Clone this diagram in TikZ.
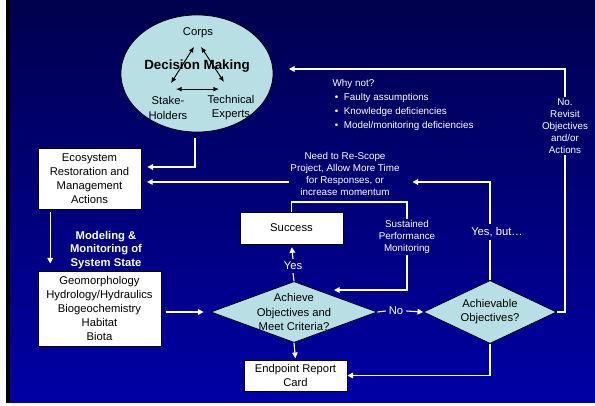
\documentclass[tikz,border=0pt]{standalone}
\usepackage{fontspec}
\setmainfont{Liberation Sans}
\usetikzlibrary{shapes.geometric,arrows.meta}

\definecolor{bgtop}{RGB}{0,0,78}
\definecolor{bgbottom}{RGB}{0,0,165}
\definecolor{paleteal}{RGB}{184,223,227}

\newcommand{\boxsz}{\fontsize{8}{10}\selectfont}
\newcommand{\notesz}{\fontsize{7}{8.5}\selectfont}

\tikzset{
  flow/.style={draw=white,line width=0.8pt},
  flowarrow/.style={flow,-{Triangle[length=4pt,width=4pt]}},
  party arrow/.style={draw=black,line width=0.7pt,{Latex[length=4pt,width=3.5pt]}-{Latex[length=4pt,width=3.5pt]}}
}

\begin{document}
\begin{tikzpicture}[x=0.025cm, y=-0.025cm]
        \tikzstyle{box}=[draw=black,fill=white,line width=0.6pt,align=center,inner sep=1pt,font=\boxsz]
        \tikzstyle{decision}=[shape=diamond,draw=black,fill=paleteal,line width=0.5pt,inner sep=0pt]
        \tikzstyle{diatext}=[align=center,inner sep=0pt,font=\boxsz]
        \tikzstyle{party}=[align=center,inner sep=1pt,font=\boxsz]
        \tikzstyle{note}=[text=white,align=center,inner sep=1pt,font=\notesz]
        \tikzstyle{answer}=[text=white,inner sep=2pt,font=\boxsz]

        % background
        \useasboundingbox (0,0) rectangle (595,406);
        \fill[white] (0,0) rectangle (595,406);
        \shade[top color=bgtop,bottom color=bgbottom] (10,0) rectangle (595,403);
        \fill[black] (6,0) rectangle (10,403);

        % decision making
        \node[ellipse,draw=black,fill=paleteal,line width=0.5pt,minimum width=3.8cm,minimum height=2.925cm] (dm) at (197,73.5) {};
        \node[font=\bfseries\fontsize{9.5}{11}\selectfont] (dmtitle) at (197,66) {Decision Making};
        \node[party] (corps) at (198,33) {Corps};
        \node[party] (stake) at (168,108) {Stake-\\Holders};
        \node[party] (tech) at (231,108) {Technical\\Experts};
        \draw[party arrow] ([shift={(-4,7)}]corps.south) -- ([shift={(3,-12)}]stake.north);
        \draw[party arrow] ([shift={(3,7)}]corps.south) -- ([shift={(-7,-12)}]tech.north);
        \draw[party arrow] ([shift={(8,-6)}]stake.north) -- ([shift={(-12,-6)}]tech.north |- stake.north);

        % boxes
        \node[box,minimum width=2.575cm,minimum height=1.525cm] (eco) at (89.5,178.5) {Ecosystem\\Restoration and\\Management\\Actions};
        \node[text=white,align=center,font=\bfseries\fontsize{8}{9.6}\selectfont] (modhead) at (106,250) {Modeling \&\\Monitoring of\\System State};
        \node[box,minimum width=3.075cm,minimum height=1.875cm] (model) at (99.5,308.5) {Geomorphology\\Hydrology/Hydraulics\\Biogeochemistry\\Habitat\\Biota};
        \node[box,minimum width=2.575cm,minimum height=0.8cm] (success) at (291.5,228) {Success};
        \node[box,minimum width=2.575cm,minimum height=0.775cm] (endpoint) at (295.5,375.5) {Endpoint Report\\Card};

        % decisions
        \node[decision,minimum width=4.15cm,minimum height=1.525cm,label={[diatext]center:Achieve\\Objectives and\\Meet Criteria?}] (achieve) at (294,312) {};
        \node[decision,minimum width=3.325cm,minimum height=1.575cm,label={[diatext]center:Achievable\\Objectives?}] (achievable) at (490,312) {};

        % labels on the loops
        \node[answer] (yes) at (293,266) {Yes};
        \node[answer] (no) at (396,311) {No};
        \node[answer] (yesbut) at (497,232) {Yes, but\ldots};
        \node[note] (rescope) at (345,174) {Need to Re-Scope\\Project, Allow More Time\\for Responses, or\\increase momentum};
        \node[note] (sustained) at (407,237) {Sustained\\Performance\\Monitoring};
        \node[note] (revisit) at (565,126) {No.\\Revisit\\Objectives\\and/or\\Actions};
        \node[note,align=left,anchor=north west,font=\fontsize{7}{10}\selectfont] (whynot) at (331,77.5) {Why not?\\
            \hspace{1.5pt}\textbullet\hspace{4pt}Faulty assumptions\\
            \hspace{1.5pt}\textbullet\hspace{4pt}Knowledge deficiencies\\
            \hspace{1.5pt}\textbullet\hspace{4pt}Model/monitoring deficiencies};

        \coordinate (rb) at (490,182);
        \coordinate (dmin) at (289,69);
        \coordinate (loopcorner) at (407,202);
        \coordinate (loopend) at (334,290);

        % connectors
        \draw[flowarrow,shorten <=4pt] (dm.south) ++(-2,0) |- ([shift={(6,-11.5)}]eco.east);
        \draw[flowarrow] ([xshift=9pt,yshift=-1.5pt]eco.south west) -- ([xshift=9pt]eco.south west |- model.north) [shorten >=5pt];
        \draw[flowarrow,shorten <=3pt,shorten >=5pt] (model.east |- achieve.west) -- (achieve.west);
        \draw[flowarrow,shorten >=1pt] (achieve.south) -- (endpoint.north);
        \draw[flow] (achieve.north) -- (yes.south);
        \draw[flowarrow,shorten >=2pt] (yes.north) -- (success.south);
        \draw[flow] (achieve.east) -- (no.west);
        \draw[flowarrow] (no.east) -- (achievable.west);
        \draw[flowarrow] (achievable.south) |- (endpoint.east);
        \draw[flow] (achievable.north) -- (achievable.north |- yesbut.south);
        \draw[flowarrow,shorten >=8pt] (achievable.north |- yesbut.north) -- (rb) -- (rb -| rescope.east);
        \draw[flowarrow,shorten >=4pt] (rb -| rescope.west) -- (rb -| eco.east);
        \draw[flow] (success.north) |- (loopcorner) -- (sustained.north);
        \draw[flowarrow] (sustained.south) |- (loopend);
        \draw[flow] (achievable.east) -| (revisit.south);
        \draw[flowarrow] (revisit.north) |- (dmin);
\end{tikzpicture}
\end{document}
